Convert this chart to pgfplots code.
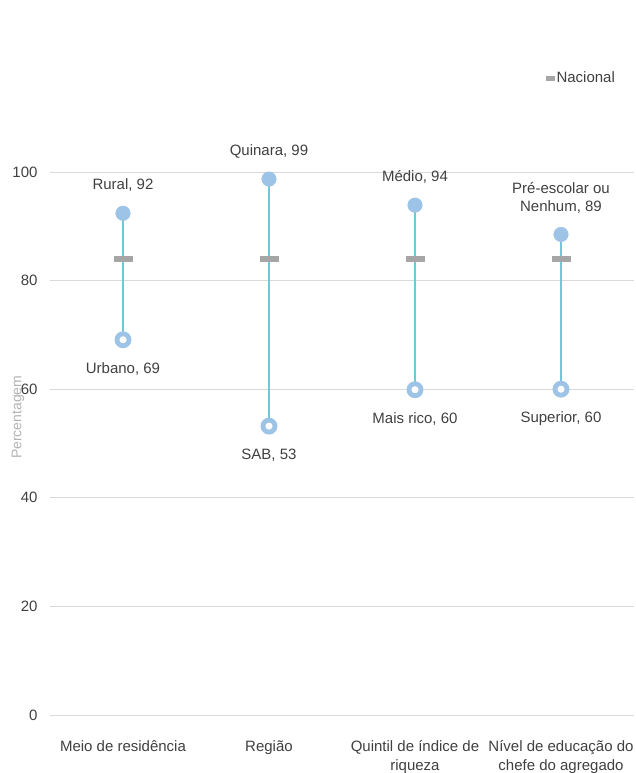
\documentclass[border=0pt]{standalone}
\usepackage{pgfplots}
\pgfplotsset{compat=1.18}
\usepackage{fontspec}
\setmainfont{Liberation Sans}
\definecolor{dotblue}{HTML}{9DC3E6}
\definecolor{linecyan}{HTML}{6CCBD6}
\definecolor{nacgray}{HTML}{A6A6A6}
\definecolor{gridgray}{HTML}{D9D9D9}
\definecolor{txt}{HTML}{404040}
\begin{document}
\begin{tikzpicture}[font=\fontsize{15bp}{18bp}\selectfont]
\begin{axis}[
  scale only axis,
  width=584bp, height=651.6bp,
  xmin=-0.5, xmax=3.5, ymin=0, ymax=120,
  clip=false,
  axis line style={draw=none},
  major tick length=0pt,
  ytick={0,20,40,60,80,100},
  ymajorgrids, grid style={gridgray, line width=0.8bp},
  xtick={0,1,2,3},
  xticklabels={Meio de residência, Região, {Quintil de índice de\\riqueza}, {Nível de educação do\\chefe do agregado}},
  xticklabel style={align=center, color=txt, anchor=north, yshift=-22bp, font=\fontsize{15bp}{18.5bp}\selectfont},
  yticklabel style={color=txt, xshift=-9bp, font=\fontsize{15bp}{18bp}\selectfont},
  /pgf/number format/assume math mode=true,
  legend style={draw=none, fill=none, at={(0.971,0.9776)}, anchor=east, font=\fontsize{15bp}{18bp}\selectfont\color{txt}, inner sep=0pt},
  legend cell align=left,
]
% lower ring markers
\addplot[dotblue, only marks, mark=*, mark size=6bp, line width=4.8bp, mark options={draw=dotblue, fill=white, line width=4.8bp}, forget plot]
  coordinates {(0,69.1) (1,53.2) (2,59.9) (3,60.0)};
% connecting lines
\addplot[linecyan, line width=1.1bp, unbounded coords=jump, forget plot]
  coordinates {(0,69.1) (0,92.4) (0,nan) (1,53.2) (1,98.7) (1,nan) (2,59.9) (2,93.9) (2,nan) (3,60.0) (3,88.5)};
% upper filled markers
\addplot[dotblue, only marks, mark=*, mark size=7.3bp, mark options={draw=dotblue, fill=dotblue, line width=0.4bp}, forget plot]
  coordinates {(0,92.4) (1,98.7) (2,93.9) (3,88.5)};
% nacional
\addplot[nacgray, only marks, mark=square*, mark size=9bp, mark options={draw=none, fill=nacgray, yscale=0.26},
  legend image code/.code={\fill[nacgray] (0bp,-1.8bp) rectangle (8bp,1.8bp);}]
  coordinates {(0,84.0) (1,84.0) (2,84.0) (3,84.0)};
\addlegendentry{Nacional}
% labels
\node[color=txt, anchor=center, yshift=28bp] at (axis cs:0,92.4) {Rural, 92};
\node[color=txt, anchor=center, yshift=28bp] at (axis cs:1,98.7) {Quinara, 99};
\node[color=txt, anchor=center, yshift=28bp] at (axis cs:2,93.9) {Médio, 94};
\node[color=txt, anchor=center, yshift=37bp, align=center] at (axis cs:3,88.5) {Pré-escolar ou\\Nenhum, 89};
\node[color=txt, anchor=center, yshift=-29bp] at (axis cs:0,69.1) {Urbano, 69};
\node[color=txt, anchor=center, yshift=-29bp] at (axis cs:1,53.2) {SAB, 53};
\node[color=txt, anchor=center, yshift=-29bp] at (axis cs:2,59.9) {Mais rico, 60};
\node[color=txt, anchor=center, yshift=-29bp] at (axis cs:3,60.0) {Superior, 60};
\node[rotate=90, color=nacgray!85, font=\fontsize{14bp}{16bp}\selectfont] at ([xshift=-32bp]rel axis cs:0,0.457) {Percentagem};
\end{axis}
\pgfresetboundingbox
\path (-50bp,-58bp) rectangle (586bp,715bp);
\end{tikzpicture}
\end{document}
